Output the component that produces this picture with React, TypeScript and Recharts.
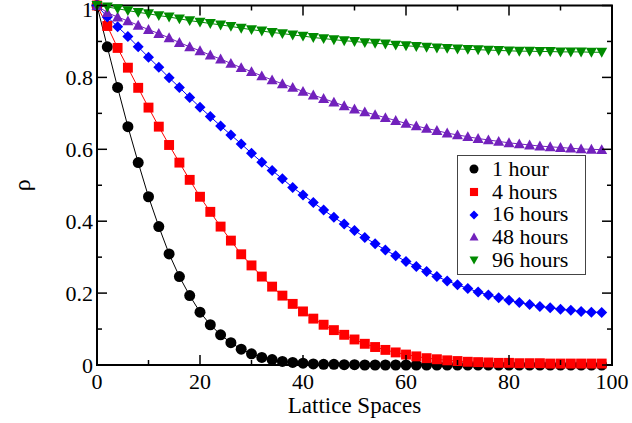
import React from 'react';
import { LineChart, Line, XAxis, YAxis, ReferenceArea } from 'recharts';

const LATTICE = [
  0, 2, 4, 6, 8, 10, 12, 14, 16, 18, 20, 22, 24, 26, 28, 30, 32, 34, 36, 38, 40, 42, 44, 46, 48,
  50, 52, 54, 56, 58, 60, 62, 64, 66, 68, 70, 72, 74, 76, 78, 80, 82, 84, 86, 88, 90, 92, 94, 96, 98,
];

const HOUR_1 = [
  1.0, 0.885, 0.772, 0.663, 0.563, 0.468, 0.385, 0.309, 0.246, 0.193, 0.147, 0.112, 0.084, 0.062, 0.044,
  0.031, 0.021, 0.015, 0.01, 0.007, 0.005, 0.003, 0.002, 0.002, 0.001, 0.001, 0, 0, 0, 0, 0, 0, 0, 0, 0,
  0, 0, 0, 0, 0, 0, 0, 0, 0, 0, 0, 0, 0, 0, 0,
];

const HOURS_4 = [
  1.0, 0.943, 0.882, 0.827, 0.771, 0.716, 0.663, 0.612, 0.563, 0.515, 0.468, 0.426, 0.385, 0.346, 0.308,
  0.277, 0.246, 0.218, 0.193, 0.17, 0.149, 0.129, 0.112, 0.097, 0.084, 0.071, 0.059, 0.05, 0.042, 0.035,
  0.029, 0.024, 0.019, 0.016, 0.013, 0.011, 0.009, 0.008, 0.007, 0.006, 0.006, 0.005, 0.005, 0.005, 0.004,
  0.004, 0.004, 0.004, 0.004, 0.004,
];

const HOURS_16 = [
  1.0, 0.968, 0.941, 0.914, 0.885, 0.856, 0.828, 0.799, 0.772, 0.744, 0.717, 0.691, 0.665, 0.64, 0.615,
  0.589, 0.564, 0.541, 0.518, 0.494, 0.473, 0.452, 0.431, 0.411, 0.392, 0.374, 0.355, 0.337, 0.32, 0.304,
  0.288, 0.274, 0.26, 0.246, 0.234, 0.223, 0.213, 0.203, 0.195, 0.187, 0.18, 0.174, 0.168, 0.163, 0.159,
  0.155, 0.152, 0.149, 0.147, 0.146,
];

const HOURS_48 = [
  1.0, 0.98, 0.968, 0.957, 0.945, 0.933, 0.922, 0.91, 0.897, 0.885, 0.874, 0.862, 0.851, 0.839, 0.827,
  0.816, 0.804, 0.793, 0.782, 0.772, 0.761, 0.751, 0.741, 0.731, 0.721, 0.712, 0.704, 0.696, 0.688, 0.68,
  0.672, 0.665, 0.658, 0.652, 0.645, 0.64, 0.635, 0.63, 0.626, 0.622, 0.618, 0.615, 0.612, 0.609, 0.607,
  0.605, 0.603, 0.601, 0.6, 0.599,
];

const HOURS_96 = [
  1.0, 0.996, 0.991, 0.986, 0.981, 0.977, 0.972, 0.968, 0.963, 0.958, 0.954, 0.95, 0.946, 0.942, 0.937,
  0.933, 0.929, 0.925, 0.922, 0.918, 0.915, 0.911, 0.908, 0.905, 0.902, 0.9, 0.897, 0.895, 0.893, 0.89,
  0.888, 0.886, 0.884, 0.882, 0.881, 0.879, 0.878, 0.877, 0.876, 0.875, 0.874, 0.873, 0.873, 0.872, 0.872,
  0.871, 0.871, 0.871, 0.87, 0.87,
];

const X_TICKS = [0, 10, 20, 30, 40, 50, 60, 70, 80, 90, 100];
const Y_TICKS = [0, 0.1, 0.2, 0.3, 0.4, 0.5, 0.6, 0.7, 0.8, 0.9, 1];

const FONT = '"Liberation Serif", "Times New Roman", serif';

// plot frame in page pixels
const LEFT = 97;
const RIGHT = 612;
const TOP = 5.5;
const BOTTOM = 365;

type Shape = 'circle' | 'square' | 'diamond' | 'up' | 'down';

const SERIES: { key: string; name: string; color: string; shape: Shape }[] = [
  { key: 'h1', name: '1 hour', color: '#000000', shape: 'circle' },
  { key: 'h4', name: '4 hours', color: '#ff0000', shape: 'square' },
  { key: 'h16', name: '16 hours', color: '#0000ff', shape: 'diamond' },
  { key: 'h48', name: '48 hours', color: '#7221bc', shape: 'up' },
  { key: 'h96', name: '96 hours', color: '#008b00', shape: 'down' },
];

const data = LATTICE.map((x, i) => ({
  x,
  h1: HOUR_1[i],
  h4: HOURS_4[i],
  h16: HOURS_16[i],
  h48: HOURS_48[i],
  h96: HOURS_96[i],
}));

function marker(shape: Shape, cx: number, cy: number, s: number, color: string, key?: any) {
  const h = s / 2;
  if (shape === 'circle') return <circle key={key} cx={cx} cy={cy} r={h} fill={color} />;
  if (shape === 'square')
    return <rect key={key} x={cx - h * 0.9} y={cy - h * 0.9} width={s * 0.9} height={s * 0.9} fill={color} />;
  if (shape === 'diamond')
    return (
      <polygon key={key} points={`${cx},${cy - h} ${cx + h},${cy} ${cx},${cy + h} ${cx - h},${cy}`} fill={color} />
    );
  if (shape === 'up')
    return (
      <polygon key={key} points={`${cx},${cy - h} ${cx + h},${cy + h * 0.8} ${cx - h},${cy + h * 0.8}`} fill={color} />
    );
  return (
    <polygon key={key} points={`${cx},${cy + h} ${cx + h},${cy - h * 0.8} ${cx - h},${cy - h * 0.8}`} fill={color} />
  );
}

const XTick = (props: any) => {
  const { x, payload } = props;
  const v = payload.value;
  const major = v % 20 === 0;
  const len = major ? 10 : 5;
  return (
    <g>
      <line x1={x} y1={BOTTOM} x2={x} y2={BOTTOM - len} stroke="#000" strokeWidth={1.5} />
      <line x1={x} y1={TOP} x2={x} y2={TOP + len} stroke="#000" strokeWidth={1.5} />
      {major && (
        <text x={x} y={389} textAnchor="middle" fontSize={22} style={{ fontFamily: FONT }} fill="#000">
          {v}
        </text>
      )}
    </g>
  );
};

const YTick = (props: any) => {
  const { y, payload, index } = props;
  const v = payload.value;
  const major = index % 2 === 0;
  const len = major ? 10 : 5;
  return (
    <g>
      <line x1={LEFT} y1={y} x2={LEFT + len} y2={y} stroke="#000" strokeWidth={1.5} />
      <line x1={RIGHT} y1={y} x2={RIGHT - len} y2={y} stroke="#000" strokeWidth={1.5} />
      {major && (
        <text x={93} y={Math.max(y + 8, 17)} textAnchor="end" fontSize={22} style={{ fontFamily: FONT }} fill="#000">
          {v === 0 ? '0' : v === 1 ? '1' : v.toFixed(1)}
        </text>
      )}
    </g>
  );
};

const RhoLabel = (props: any) => {
  const vb = props.viewBox || { x: 0, y: TOP, height: BOTTOM - TOP };
  const cx = 22;
  const cy = vb.y + vb.height / 2;
  return (
    <text
      x={cx}
      y={cy}
      transform={`rotate(-90 ${cx} ${cy})`}
      textAnchor="middle"
      dominantBaseline="central"
      fontSize={24}
      style={{ fontFamily: FONT }}
      fill="#000"
    >
      ρ
    </text>
  );
};

const XTitle = (props: any) => {
  const vb = props.viewBox || { x: LEFT, y: BOTTOM, width: RIGHT - LEFT, height: 58 };
  const cx = vb.x + vb.width / 2;
  return (
    <text x={cx} y={413} textAnchor="middle" fontSize={23} style={{ fontFamily: FONT }} fill="#000">
      Lattice Spaces
    </text>
  );
};

function LegendBox() {
  return (
    <div
      style={{
        position: 'absolute',
        left: 457,
        top: 155,
        width: 129,
        height: 120,
        border: '1px solid #444',
        background: '#fff',
        boxSizing: 'border-box',
        paddingTop: 2,
        fontFamily: FONT,
        fontSize: 22,
      }}
    >
      {SERIES.map((s) => (
        <div key={s.key} style={{ display: 'flex', alignItems: 'center', height: 22.7, lineHeight: '22.7px' }}>
          <svg width={34} height={22} style={{ flex: 'none' }}>
            {marker(s.shape, 16, 11, 9, s.color)}
          </svg>
          <span style={{ whiteSpace: 'nowrap', fontFamily: FONT }}>{s.name}</span>
        </div>
      ))}
    </div>
  );
}

export default function App() {
  return (
    <div
      style={{
        position: 'absolute',
        left: 0,
        top: 0,
        width: 632,
        height: 423,
        background: '#fff',
        fontFamily: FONT,
      }}
    >
      <LineChart width={632} height={423} data={data} margin={{ top: TOP, right: 632 - RIGHT, bottom: 0, left: 0 }}>
        <XAxis
          dataKey="x"
          type="number"
          domain={[0, 100]}
          ticks={X_TICKS}
          interval={0}
          height={423 - BOTTOM}
          axisLine={false}
          tickLine={false}
          tick={<XTick />}
          label={<XTitle />}
        />
        <YAxis
          type="number"
          domain={[0, 1]}
          ticks={Y_TICKS}
          interval={0}
          width={LEFT}
          axisLine={false}
          tickLine={false}
          tick={<YTick />}
          label={<RhoLabel />}
        />
        <ReferenceArea x1={0} x2={100} y1={0} y2={1} fill="none" stroke="#000" strokeWidth={2} ifOverflow="visible" />
        {SERIES.map((s) => (
          <Line
            key={s.key}
            dataKey={s.key}
            name={s.name}
            type="linear"
            stroke={s.color}
            strokeWidth={1}
            isAnimationActive={false}
            dot={(p: any) => marker(s.shape, p.cx, p.cy, 11, s.color, `${s.key}-${p.index}`)}
            activeDot={false}
          />
        ))}
      </LineChart>
      <LegendBox />
    </div>
  );
}
